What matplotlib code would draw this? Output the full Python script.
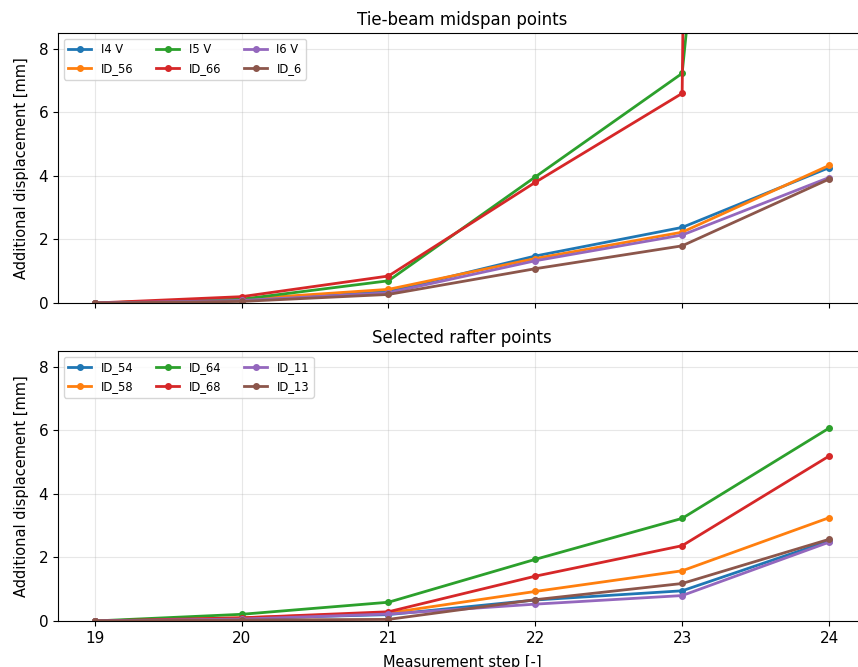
import matplotlib
matplotlib.use('Agg')
import matplotlib.pyplot as plt

steps = [19, 20, 21, 22, 23, 24]

# tie-beam midspan points
top_labels = ['I4 V', 'ID_56', 'I5 V', 'ID_66', 'I6 V', 'ID_6']
i4_v = [0, 0.10, 0.36, 1.48, 2.38, 4.26]
id_56 = [0, 0.12, 0.43, 1.40, 2.23, 4.33]
i5_v = [0, 0.12, 0.70, 3.97, 7.23, 53.0]
id_66 = [0, 0.20, 0.85, 3.80, 6.60, 400.0]
i6_v = [0, 0.08, 0.32, 1.33, 2.14, 3.95]
id_6 = [0, 0.05, 0.27, 1.08, 1.80, 3.90]
top_series = [i4_v, id_56, i5_v, id_66, i6_v, id_6]

# selected rafter points
bot_labels = ['ID_54', 'ID_58', 'ID_64', 'ID_68', 'ID_11', 'ID_13']
id_54 = [0, 0.08, 0.20, 0.66, 0.95, 2.52]
id_58 = [0, 0.10, 0.25, 0.93, 1.58, 3.25]
id_64 = [0, 0.21, 0.59, 1.94, 3.23, 6.07]
id_68 = [0, 0.10, 0.29, 1.41, 2.37, 5.19]
id_11 = [0, 0.06, 0.22, 0.53, 0.80, 2.48]
id_13 = [0, 0.03, 0.05, 0.67, 1.18, 2.57]
bot_series = [id_54, id_58, id_64, id_68, id_11, id_13]

fig = plt.figure(figsize=(8.58, 6.67), dpi=100)
ax1 = fig.add_axes([0.0676, 0.5457, 0.9414, 0.4048])
ax2 = fig.add_axes([0.0676, 0.069, 0.9414, 0.4048], sharex=ax1)

for ax, labels, series, title in [(ax1, top_labels, top_series, 'Tie-beam midspan points'),
                                  (ax2, bot_labels, bot_series, 'Selected rafter points')]:
    for lab, vals in zip(labels, series):
        ax.plot(steps, vals, marker='o', markersize=4, linewidth=2, label=lab)
    ax.set_ylim(0, 8.5)
    ax.set_xlim(18.75, 24.25)
    ax.set_yticks([0, 2, 4, 6, 8])
    ax.grid(True, alpha=0.3)
    ax.set_title(title, fontsize=12)
    ax.set_ylabel('Additional displacement [mm]', fontsize=10.5, labelpad=7)
    ax.tick_params(labelsize=11)
    ax.legend(loc='upper left', ncol=3, fontsize=8.3, frameon=True)

ax2.set_xticks(steps)
ax2.set_xlabel('Measurement step [-]', fontsize=10.5, labelpad=7)
plt.setp(ax1.get_xticklabels(), visible=False)

fig.savefig('out.png', dpi=100)
